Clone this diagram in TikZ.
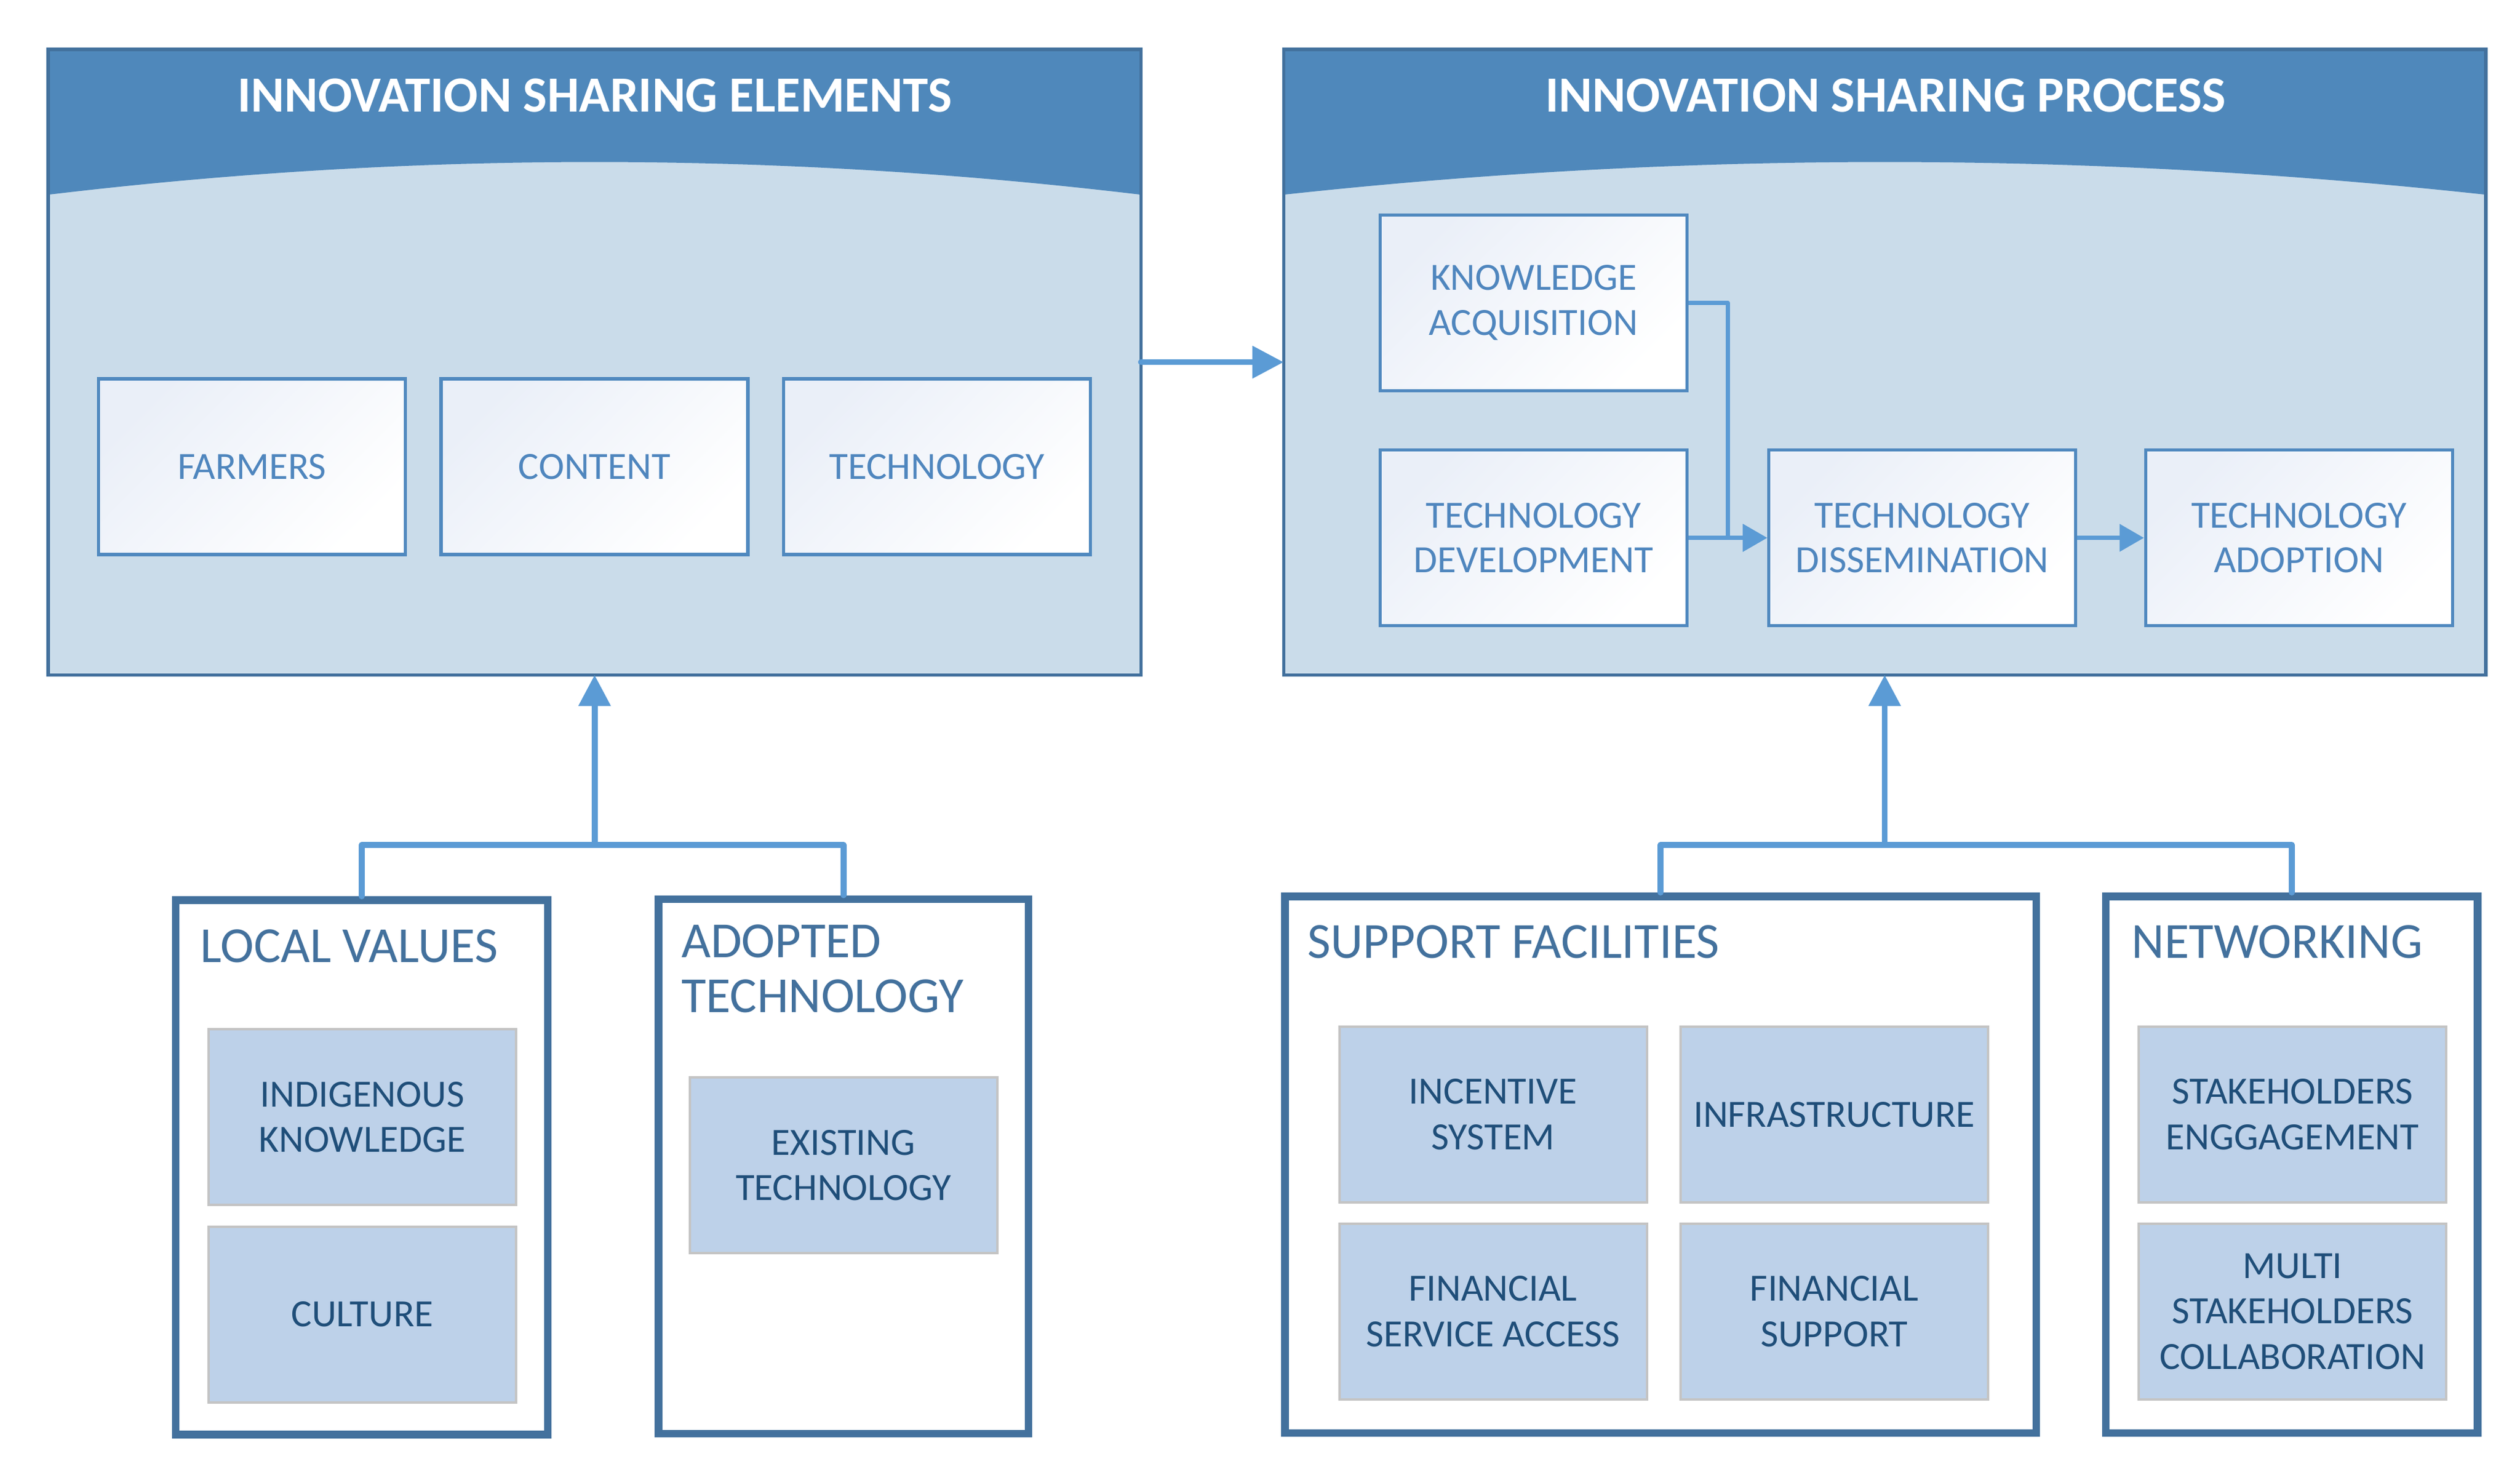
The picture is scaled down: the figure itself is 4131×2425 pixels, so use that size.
\documentclass[tikz,border=0pt]{standalone}
\usepackage{fontspec}
\setmainfont{Carlito}
\usetikzlibrary{arrows.meta,calc}
\definecolor{hdr}{HTML}{4F88BB}
\definecolor{body}{HTML}{CADCEA}
\definecolor{pborder}{HTML}{43719D}
\definecolor{iborder}{HTML}{5089BF}
\definecolor{itext}{HTML}{4F86BE}
\definecolor{arr}{HTML}{5B9BD5}
\definecolor{bfill}{HTML}{BDD1E9}
\definecolor{bgray}{HTML}{C4C4C4}
\definecolor{btext}{HTML}{1F4E79}
\definecolor{gradtop}{HTML}{EAEFF8}
\tikzset{
  panelbox/.style={rectangle, fill=body, minimum width=#1, minimum height=256pt, inner sep=0pt},
  titletext/.style={anchor=base, text=white, font=\fontsize{20.8}{24}\selectfont\bfseries},
  topbox/.style={rectangle, draw=iborder, line width=1.35pt, top color=gradtop, bottom color=white, shading angle=45,
    minimum width=125.75pt, minimum height=72pt, inner sep=0pt, align=center, text=itext,
    font=\fontsize{15.8}{18.3}\selectfont},
  outerbox/.style={rectangle, draw=pborder, line width=3.1pt, fill=white, inner sep=0pt, minimum height=219pt},
  headtext/.style={anchor=base west, inner sep=0pt, align=left, text=pborder, font=\fontsize{20.7}{22.6}\selectfont},
  innerbox/.style={rectangle, draw=bgray, line width=1pt, fill=bfill, minimum width=126pt, minimum height=72pt,
    inner sep=0pt, align=center, text=btext, font=\fontsize{15.8}{18.6}\selectfont},
  bigarrow/.style={draw=arr, line width=2.4pt, line cap=round, -{Triangle[length=12.75pt,width=12.75pt]}},
  bigline/.style={draw=arr, line width=2.4pt, line cap=round, line join=round},
  smallarrow/.style={draw=arr, line width=1.75pt, line join=round, -{Triangle[length=10pt,width=11pt]}}
}
\begin{document}
\begin{tikzpicture}[x=0.25pt,y=-0.25pt]
\useasboundingbox (0,0) rectangle (4131,2425);
% ---------- top panels ----------
\node[panelbox=447.4pt] (elem) at (974.7,593.6) {};
\node[panelbox=492.25pt] (proc) at (3089.5,593.6) {};
\fill[hdr] (79.9,81.6) -- (1869.5,81.6) -- (1869.5,319)
  .. controls (1273,247.7) and (676.4,247.7) .. (79.9,319) -- cycle;
\fill[hdr] (2105,81.6) -- (4074,81.6) -- (4074,319)
  .. controls (3417.7,247.7) and (2761.3,247.7) .. (2105,319) -- cycle;
\draw[pborder, line width=1.35pt] (elem.north west) rectangle (elem.south east);
\draw[pborder, line width=1.35pt] (proc.north west) rectangle (proc.south east);
\node[titletext] (elemtitle) at (974.7,183.4) {INNOVATION SHARING ELEMENTS};
\node[titletext] (proctitle) at (3091,183.4) {INNOVATION SHARING PROCESS};
% elements
\node[topbox] (farmers) at (413,765) {FARMERS};
\node[topbox] (content) at (974.5,765) {CONTENT};
\node[topbox] (techn) at (1536,765) {TECHNOLOGY};
% process
\node[topbox] (ka) at (2514,496.2) {KNOWLEDGE\\ACQUISITION};
\node[topbox] (td) at (2514,881.6) {TECHNOLOGY\\DEVELOPMENT};
\node[topbox] (diss) at (3151,881.6) {TECHNOLOGY\\DISSEMINATION};
\node[topbox] (adop) at (3768.7,881.6) {TECHNOLOGY\\ADOPTION};
\draw[smallarrow] (ka.east) -- ++(64,0) |- (diss.west);
\draw[smallarrow] (td.east) -- (diss.west);
\draw[smallarrow] (diss.east) -- (adop.west);
\draw[bigarrow] (elem.east) -- (proc.west);
% ---------- bottom boxes ----------
\node[outerbox, minimum width=152.6pt] (lv) at (592.9,1913.5) {};
\node[outerbox, minimum width=151.6pt] (at) at (1382.7,1911.7) {};
\node[outerbox, minimum width=307.9pt, minimum height=219.9pt] (sf) at (2722.2,1909.1) {};
\node[outerbox, minimum width=152.3pt, minimum height=219.9pt] (nw) at (3756.8,1909.1) {};
\node[headtext] (lvt) at (327.6,1577.4) {LOCAL VALUES};
\node[headtext] (att) at (1116.3,1659.4) {ADOPTED\\TECHNOLOGY};
\node[headtext] (sft) at (2142.9,1570.7) {SUPPORT FACILITIES};
\node[headtext] (nwt) at (3494,1570) {NETWORKING};
\node[innerbox] (ik) at (593.9,1831.4) {INDIGENOUS\\KNOWLEDGE};
\node[innerbox] (cu) at (593.9,2154.6) {CULTURE};
\node[innerbox] (et) at (1382.7,1909.9) {EXISTING\\TECHNOLOGY};
\node[innerbox] (is) at (2447.5,1826.7) {INCENTIVE\\SYSTEM};
\node[innerbox] (inf) at (3006.9,1826.7) {INFRASTRUCTURE};
\node[innerbox] (fsa) at (2447.5,2149.5) {FINANCIAL\\SERVICE ACCESS};
\node[innerbox] (fs) at (3006.9,2149.5) {FINANCIAL\\SUPPORT};
\node[innerbox] (se) at (3758.1,1826.7) {STAKEHOLDERS\\ENGGAGEMENT};
\node[innerbox] (msc) at (3758.1,2149.5) {MULTI\\STAKEHOLDERS\\COLLABORATION};
% ---------- connectors ----------
\coordinate (j1) at (974.7,1385);
\coordinate (j2) at (3089.5,1385);
\draw[bigline] (lv.north) |- (j1) -| (at.north);
\draw[bigarrow] (j1) -- (elem.south);
\draw[bigline] (sf.north) |- (j2) -| (nw.north);
\draw[bigarrow] (j2) -- (proc.south);
\end{tikzpicture}
\end{document}
